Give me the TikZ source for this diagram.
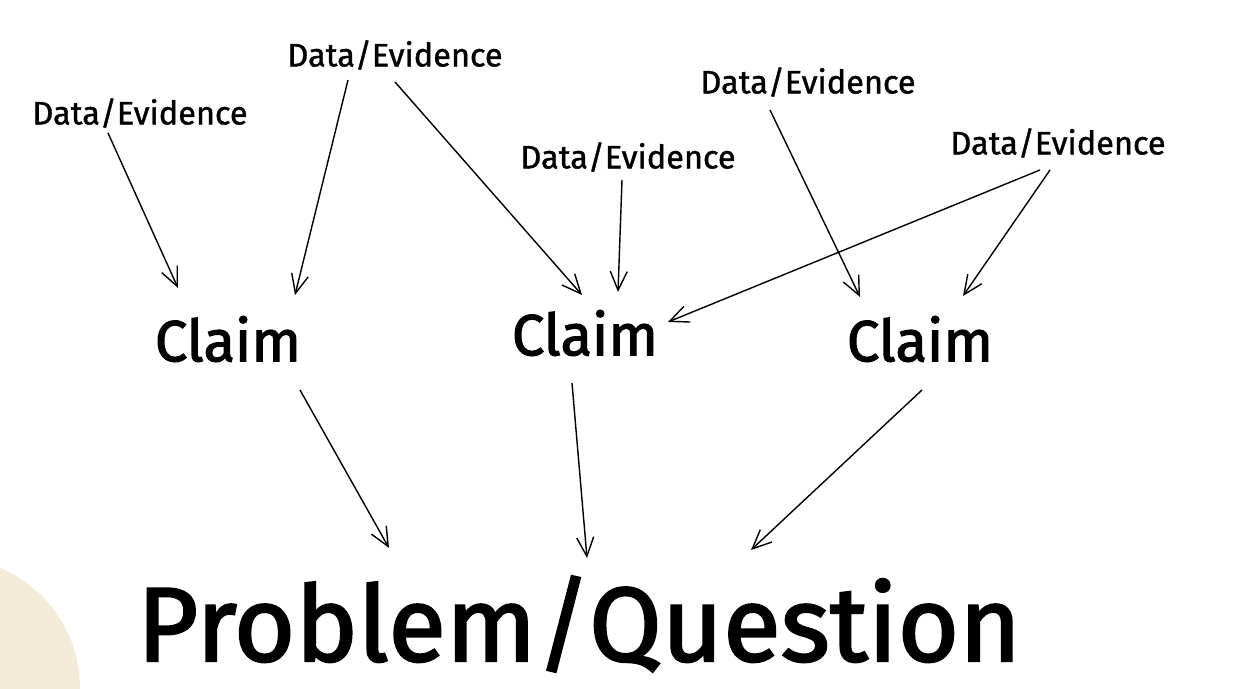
\documentclass[tikz,border=0pt]{standalone}
\usepackage{fontspec}
\setmainfont{Fira Sans}
\newfontfamily\markerfont[FakeBold=2]{Fira Sans}
\newfontfamily\penfont[FakeBold=1.2]{Fira Sans}
\usetikzlibrary{arrows.meta}
\begin{document}
\begin{tikzpicture}[evidence/.style={font=\penfont\fontsize{18.5}{21}\selectfont},
    claim/.style={font=\markerfont\fontsize{33}{38}\selectfont},
    problem/.style={font=\markerfont\fontsize{60}{68}\selectfont},
    link/.style={-{Straight Barb[length=0.38cm, width=0.34cm]}, line width=0.8pt}]
    \useasboundingbox (0,0) rectangle (24.8,13.78);
    \fill[color={rgb,255:red,243;green,234;blue,216}] (-1,0.02) circle (2.6);
    \node[evidence] (d1) at (2.80,11.52) {Data/Evidence};
    \node[evidence] (d2) at (7.90,12.68) {Data/Evidence};
    \node[evidence] (d3) at (12.56,10.64) {Data/Evidence};
    \node[evidence] (d4) at (16.16,12.14) {Data/Evidence};
    \node[evidence] (d5) at (21.16,10.92) {Data/Evidence};
    \node[claim] (c1) at (4.56,7.00) {Claim};
    \node[claim] (c2) at (11.70,7.12) {Claim};
    \node[claim] (c3) at (18.40,7.00) {Claim};
    \node[problem, inner sep=0pt] (p) at (11.58,1.30) {Problem/Question};
    \draw[link] ([shift={(-0.64,-0.40)}]d1.center) -- ([shift={(-1.00,1.02)}]c1.center);
    \draw[link] ([shift={(-0.94,-0.50)}]d2.center) -- ([shift={(1.34,0.88)}]c1.center);
    \draw[link] ([shift={(0,-0.54)}]d2.center) -- ([shift={(-0.06,0.76)}]c2.center);
    \draw[link] ([shift={(-0.12,-0.46)}]d3.center) -- ([shift={(0.66,0.82)}]c2.center);
    \draw[link] ([shift={(-0.36,-0.54)}]d5.center) -- ([shift={(1.66,0.22)}]c2.center);
    \draw[link] ([shift={(-0.76,-0.56)}]d4.center) -- ([shift={(-1.20,0.84)}]c3.center);
    \draw[link] ([shift={(-0.16,-0.54)}]d5.center) -- ([shift={(0.86,0.86)}]c3.center);
    \draw[link] ([shift={(1.44,-1.02)}]c1.center) -- ([shift={(-3.80,1.52)}]p.center);
    \draw[link] ([shift={(-0.26,-1.00)}]c2.center) -- ([shift={(0.16,1.32)}]p.center);
    \draw[link] ([shift={(0.04,-1.02)}]c3.center) -- ([shift={(3.44,1.48)}]p.center);
\end{tikzpicture}
\end{document}
